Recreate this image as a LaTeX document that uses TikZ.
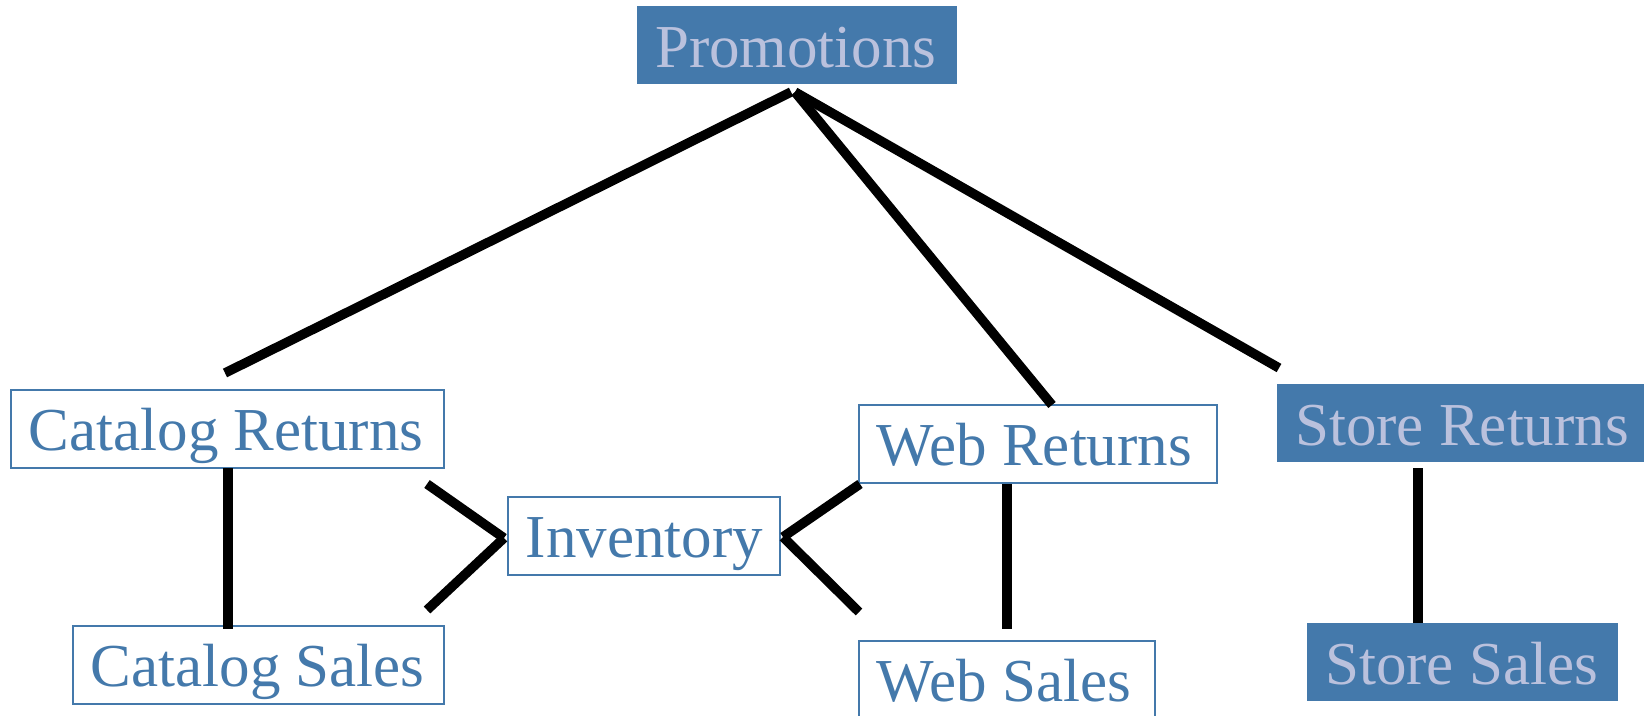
\documentclass[tikz,border=0pt]{standalone}
\usepackage{fontspec}
\setmainfont{Liberation Serif}
\definecolor{tblue}{RGB}{68,121,171}
\definecolor{tlight}{RGB}{186,193,221}
\newcommand{\tname}[2]{\makebox[#1][l]{#2}}
\begin{document}
\begin{tikzpicture}[x=1pt,y=-1pt,
  tbl/.style={rectangle, anchor=north west, inner xsep=18pt, inner ysep=0pt,
    text height=61pt, text depth=17pt,
    font=\fontsize{61}{61}\selectfont},
  dimtbl/.style={tbl, fill=tblue, text=tlight},
  facttbl/.style={tbl, draw=tblue, line width=1.5pt, fill=white, text=tblue},
  link/.style={line width=9.5pt, line cap=butt, black}]
\useasboundingbox (0,0) rectangle (1644,715);

% tables
\node[dimtbl]  (promo) at (637,6)    {\tname{284pt}{Promotions}};
\node[facttbl] (cr)    at (10,389)   {\tname{397pt}{Catalog Returns}};
\node[facttbl] (cs)    at (72,625)   {\tname{335pt}{Catalog Sales}};
\node[facttbl] (inv)   at (507,496)  {\tname{236pt}{Inventory}};
\node[facttbl] (wr)    at (858,404)  {\tname{322pt}{Web Returns}};
\node[facttbl] (ws)    at (858,640)  {\tname{260pt}{Web Sales}};
\node[dimtbl]  (sr)    at (1277,384) {\tname{345pt}{Store Returns}};
\node[dimtbl]  (ss)    at (1307,623) {\tname{275pt}{Store Sales}};

% connector end points
\coordinate (promoL) at (791,92);
\coordinate (promoR) at (795,92);
\coordinate (crTop) at (225,373);
\coordinate (wrTop) at (1052,405);
\coordinate (srTop) at (1279,368);
\coordinate (crBot) at (228,468);
\coordinate (csTop) at (228,629);
\coordinate (wrBot) at (1007,484);
\coordinate (wsTop) at (1007,629);
\coordinate (srBot) at (1418,468);
\coordinate (ssTop) at (1418,623);
\coordinate (crSide) at (427,484);
\coordinate (csSide) at (427,610);
\coordinate (invL) at (504,538);
\coordinate (invR) at (783,537);
\coordinate (wrSide) at (860,484);
\coordinate (wsSide) at (859,612);

% connectors
\draw[link] (promoL) -- (crTop);
\draw[link] (promoR) -- (wrTop);
\draw[link] (promoR) -- (srTop);
\draw[link] (crBot) -- (csTop);
\draw[link] (wrBot) -- (wsTop);
\draw[link] (srBot) -- (ssTop);
\draw[link] (crSide) -- (invL);
\draw[link] (csSide) -- (invL);
\draw[link] (wrSide) -- (invR);
\draw[link] (wsSide) -- (invR);
\end{tikzpicture}
\end{document}
